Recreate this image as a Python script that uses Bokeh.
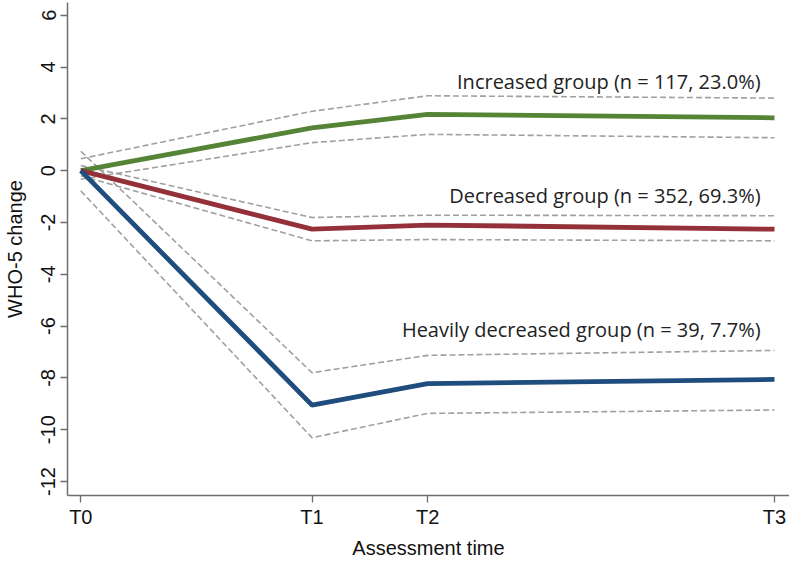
from bokeh.plotting import figure
from bokeh.models import FixedTicker, Range1d
from bokeh.core.properties import value
from bokeh.embed import file_html
from bokeh.resources import INLINE

# data
times = [0, 4, 6, 12]
time_labels = ["T0", "T1", "T2", "T3"]

inc_mean = [0, 1.65, 2.17, 2.04]
inc_lo = [-0.33, 1.08, 1.40, 1.27]
inc_hi = [0.46, 2.29, 2.89, 2.80]

dec_mean = [0, -2.26, -2.10, -2.26]
dec_lo = [-0.20, -2.71, -2.66, -2.71]
dec_hi = [0.20, -1.81, -1.72, -1.74]

hvy_mean = [0, -9.05, -8.22, -8.06]
hvy_lo = [-0.78, -10.31, -9.37, -9.24]
hvy_hi = [0.75, -7.80, -7.13, -6.94]

group_labels = ["Increased group (n = 117, 23.0%)",
                "Decreased group (n = 352, 69.3%)",
                "Heavily decreased group (n = 39, 7.7%)"]
label_x = [11.76, 11.76, 11.76]
label_y = [3.43, -0.95, -6.12]

y_ticks = list(range(-12, 7, 2))
y_tick_labels = [str(t) for t in y_ticks]

x_title = "Assessment time"
y_title = "WHO-5 change"

p = figure(width=789, height=561, output_backend="svg", toolbar_location=None,
           x_range=Range1d(-0.23, 12.26), y_range=Range1d(-12.54, 6.49),
           min_border_left=66, min_border_right=0, min_border_top=2, min_border_bottom=63)
p.outline_line_color = None
p.grid.visible = False

grey = "#a0a0a0"
for lo, hi in [(inc_lo, inc_hi), (dec_lo, dec_hi), (hvy_lo, hvy_hi)]:
    p.line(times, lo, line_color=grey, line_width=1.6, line_dash="6 3")
    p.line(times, hi, line_color=grey, line_width=1.6, line_dash="6 3")

p.line(times, inc_mean, line_color="#568436", line_width=4.8)
p.line(times, dec_mean, line_color="#933038", line_width=4.8)
p.line(times, hvy_mean, line_color="#1f4e7e", line_width=4.8)

p.text(label_x, label_y, text=group_labels, text_align="right", text_baseline="alphabetic",
       text_font=value("Open Sans"), text_font_size="20px", text_color="#222222")

axis_color = "#6e6e6e"
for ax in [p.xaxis[0], p.yaxis[0]]:
    ax.axis_line_color = axis_color
    ax.axis_line_width = 1.5
    ax.major_tick_line_color = axis_color
    ax.major_tick_line_width = 1.3
    ax.major_tick_out = 7
    ax.major_tick_in = 0
    ax.minor_tick_line_color = None
    ax.major_label_text_font = "Liberation Sans"
    ax.major_label_text_font_size = "20px"
    ax.major_label_text_color = "#111111"
    ax.axis_label_text_font = "Liberation Sans"
    ax.axis_label_text_font_size = "20px"
    ax.axis_label_text_font_style = "normal"
    ax.axis_label_text_color = "#111111"

p.xaxis.ticker = FixedTicker(ticks=times)
p.xaxis.major_label_overrides = {t: l for t, l in zip(times, time_labels)}
p.xaxis.major_label_standoff = 3
p.xaxis.axis_label = x_title
p.xaxis.axis_label_standoff = 6

p.yaxis.ticker = FixedTicker(ticks=y_ticks)
p.yaxis.major_label_overrides = {t: l for t, l in zip(y_ticks, y_tick_labels)}
p.yaxis.major_label_orientation = "vertical"
p.yaxis.major_label_standoff = 5
p.yaxis.axis_label = y_title
p.yaxis.axis_label_standoff = 13

open("out.html", "w").write(file_html(p, INLINE))
